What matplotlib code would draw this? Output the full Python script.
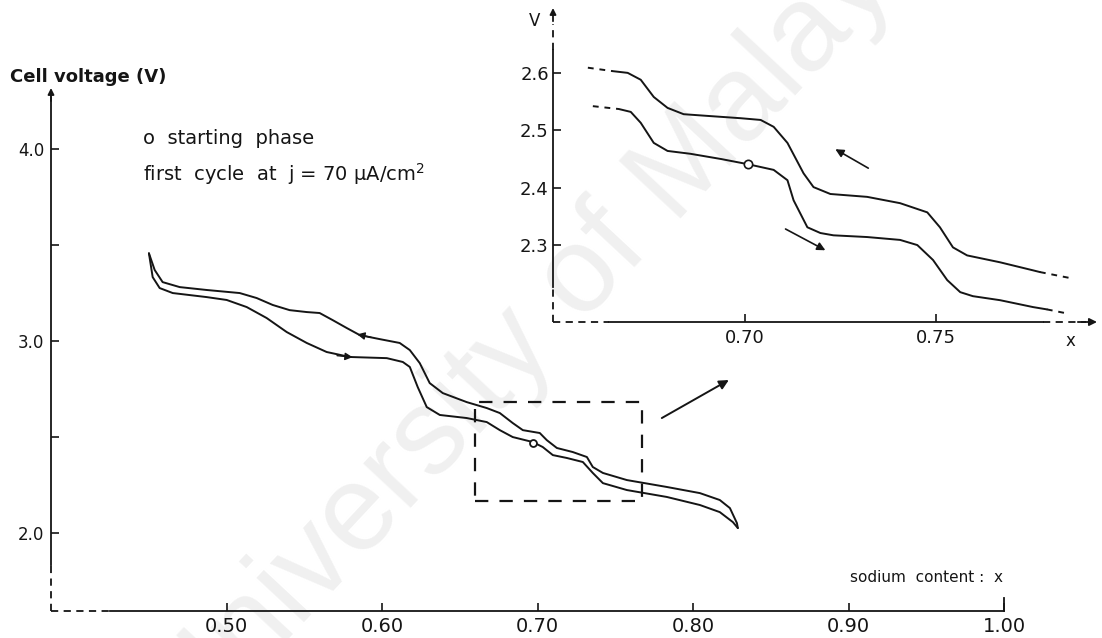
import matplotlib
matplotlib.use("Agg")
import matplotlib.pyplot as plt
from matplotlib.patches import Rectangle

W, H = 1102, 638
INK = "#151515"
plt.rcParams["font.family"] = ["DejaVu Sans"]

# ---- main loop: first cycle (x, V) ----
charge_x = [0.4500, 0.4537, 0.4588, 0.4698, 0.4871, 0.5084, 0.5193, 0.5296, 0.5405,
            0.5515, 0.5598, 0.5682, 0.5772, 0.5856, 0.5985, 0.6113, 0.6178, 0.6242,
            0.6306, 0.6390, 0.6544, 0.6673, 0.6757, 0.6840, 0.6905, 0.7014, 0.7059,
            0.7124, 0.7226, 0.7317, 0.7355, 0.7420, 0.7574, 0.7831, 0.8044, 0.8172,
            0.8237, 0.8282, 0.8288]
charge_v = [3.457, 3.370, 3.307, 3.281, 3.266, 3.250, 3.224, 3.188, 3.161,
            3.151, 3.146, 3.109, 3.068, 3.031, 3.010, 2.990, 2.953, 2.885,
            2.781, 2.729, 2.682, 2.651, 2.625, 2.573, 2.536, 2.521, 2.484,
            2.443, 2.422, 2.396, 2.344, 2.313, 2.276, 2.240, 2.208, 2.172,
            2.130, 2.052, 2.026]
discharge_x = [0.4500, 0.4524, 0.4569, 0.4653, 0.4871, 0.5000, 0.5129, 0.5257, 0.5386,
               0.5515, 0.5643, 0.5792, 0.6030, 0.6133, 0.6178, 0.6229, 0.6287, 0.6371,
               0.6544, 0.6673, 0.6757, 0.6840, 0.6969, 0.7033, 0.7098, 0.7188, 0.7291,
               0.7355, 0.7420, 0.7574, 0.7831, 0.8044, 0.8172, 0.8256, 0.8288]
discharge_v = [3.457, 3.333, 3.276, 3.250, 3.229, 3.214, 3.177, 3.120, 3.047,
               2.990, 2.943, 2.917, 2.911, 2.891, 2.865, 2.760, 2.656, 2.615,
               2.599, 2.578, 2.536, 2.500, 2.474, 2.448, 2.406, 2.391, 2.370,
               2.313, 2.260, 2.224, 2.188, 2.146, 2.109, 2.057, 2.026]
start_main = (0.6969, 2.470)
charge_arrow = ((0.593, 3.019), (0.584, 3.035))
discharge_arrow = ((0.571, 2.924), (0.581, 2.916))
zoom_box = (0.6596, 0.7671, 2.167, 2.682)
zoom_arrow = ((0.7799, 2.599), (0.8230, 2.797))

# ---- inset (enlarged window) ----
inset_charge_x = [0.6591, 0.6656, 0.6695, 0.6729, 0.6763, 0.6799, 0.6841, 0.6904, 0.6990,
                  0.7042, 0.7076, 0.7112, 0.7154, 0.7180, 0.7224, 0.7320, 0.7406, 0.7477,
                  0.7510, 0.7544, 0.7581, 0.7667, 0.7753, 0.7771, 0.7854]
inset_charge_v = [2.609, 2.603, 2.600, 2.588, 2.558, 2.539, 2.528, 2.525, 2.521,
                  2.518, 2.506, 2.478, 2.425, 2.401, 2.389, 2.384, 2.373, 2.357,
                  2.331, 2.296, 2.282, 2.270, 2.256, 2.253, 2.242]
inset_discharge_x = [0.6604, 0.6672, 0.6703, 0.6729, 0.6763, 0.6799, 0.6859, 0.6938, 0.7008,
                     0.7076, 0.7112, 0.7128, 0.7164, 0.7198, 0.7232, 0.7320, 0.7406, 0.7451,
                     0.7492, 0.7529, 0.7563, 0.7596, 0.7667, 0.7753, 0.7789, 0.7841]
inset_discharge_v = [2.542, 2.537, 2.532, 2.513, 2.478, 2.464, 2.459, 2.450, 2.441,
                     2.431, 2.413, 2.378, 2.331, 2.321, 2.317, 2.314, 2.309, 2.300,
                     2.274, 2.239, 2.218, 2.211, 2.204, 2.192, 2.188, 2.181]
start_inset = (0.7008, 2.441)
inset_charge_arrow = ((0.7323, 2.434), (0.7237, 2.467))
inset_discharge_arrow = ((0.7107, 2.328), (0.7211, 2.291))

main_xticks = [0.50, 0.60, 0.70, 0.80, 0.90, 1.00]
main_xlabels = ["0.50", "0.60", "0.70", "0.80", "0.90", "1.00"]
main_yticks = [2.0, 2.5, 3.0, 3.5, 4.0]
main_ylabels = ["2.0", "", "3.0", "", "4.0"]
inset_xticks = [0.70, 0.75]
inset_yticks = [2.3, 2.4, 2.5, 2.6]


def px_rect(left, top, right, bottom):
    return [left / W, 1 - bottom / H, (right - left) / W, (bottom - top) / H]


def arrow(ax, tail, head, lw=1.3, scale=12):
    ax.annotate("", xy=head, xytext=tail, annotation_clip=False,
                arrowprops=dict(arrowstyle="-|>", color=INK, lw=lw,
                                mutation_scale=scale, shrinkA=0, shrinkB=0))


def broken_axes(ax, x0, y0, xsolid, ysolid):
    """Solid spines with dashed stubs at the corner."""
    dash = dict(color=INK, lw=1.3, ls=(0, (4, 3)), clip_on=False)
    ax.spines[["top", "right"]].set_visible(False)
    for s in ("left", "bottom"):
        ax.spines[s].set_color(INK)
        ax.spines[s].set_linewidth(1.3)
    ax.spines["left"].set_bounds(ysolid[0], ysolid[1])
    ax.spines["bottom"].set_bounds(xsolid[0], xsolid[1])
    ax.plot([x0, x0], [y0, ysolid[0]], **dash)
    ax.plot([x0, xsolid[0]], [y0, y0], **dash)
    return dash


fig = plt.figure(figsize=(W / 100, H / 100), dpi=100)
fig.text(545 / W, 1 - 318 / H, "University of Malaya", rotation=47, fontsize=88,
         color="#f0f0f0", ha="center", va="center", family="Liberation Sans", zorder=-5)

# ---------------- main axes ----------------
ax = fig.add_axes(px_rect(51, 88, 1004, 611))
ax.patch.set_visible(False)
ax.set_xlim(0.387, 1.0)
ax.set_ylim(1.594, 4.318)
broken_axes(ax, 0.387, 1.594, (0.425, 1.0), (1.833, 4.27))
arrow(ax, (0.387, 4.25), (0.387, 4.318), scale=9)
ax.plot([1.0, 1.0], [1.594, 1.66], color=INK, lw=1.3, clip_on=False)

ax.set_xticks(main_xticks, main_xlabels, fontsize=14)
ax.set_yticks(main_yticks, main_ylabels, fontsize=12)
ax.tick_params(direction="in", length=6, width=1.2, color=INK, labelcolor=INK)
ax.tick_params(axis="x", pad=4)
ax.tick_params(axis="y", pad=5)

curve = dict(color=INK, lw=1.4, solid_joinstyle="round", solid_capstyle="round")
ax.plot(charge_x, charge_v, **curve)
ax.plot(discharge_x, discharge_v, **curve)
ax.plot(*start_main, "o", ms=5, mfc="white", mec=INK, mew=1.3, zorder=5)
arrow(ax, *charge_arrow, lw=1.0, scale=11)
arrow(ax, *discharge_arrow, lw=1.0, scale=11)

x0, x1, y0, y1 = zoom_box
ax.add_patch(Rectangle((x0, y0), x1 - x0, y1 - y0, fill=False, ec=INK, lw=1.6,
                       ls=(0, (6, 5))))
arrow(ax, *zoom_arrow, lw=1.4, scale=14)

fig.text(10 / W, 1 - 77 / H, "Cell voltage (V)", fontsize=13, weight="bold",
         color=INK, va="center")
fig.text(143 / W, 1 - 138 / H, "o  starting  phase", fontsize=14, color=INK, va="center")
fig.text(143 / W, 1 - 174 / H, "first  cycle  at  j = 70 \u03bcA/cm$^2$", fontsize=14,
         color=INK, va="center")
fig.text(1003 / W, 1 - 578 / H, "sodium  content :  x", fontsize=11, color=INK,
         ha="right", va="center")

# ---------------- inset ----------------
ax2 = fig.add_axes(px_rect(553, 8, 1097, 322))
ax2.patch.set_visible(False)
ax2.set_xlim(0.650, 0.792)
ax2.set_ylim(2.166, 2.713)
dash = broken_axes(ax2, 0.650, 2.166, (0.6646, 0.7779), (2.227, 2.640))
ax2.plot([0.650, 0.650], [2.640, 2.685], **dash)
ax2.plot([0.7779, 0.789], [2.166, 2.166], **dash)
arrow(ax2, (0.650, 2.690), (0.650, 2.713), scale=9)
arrow(ax2, (0.787, 2.166), (0.792, 2.166), scale=11)

ax2.set_xticks(inset_xticks, ["0.70", "0.75"], fontsize=13)
ax2.set_yticks(inset_yticks, ["2.3", "2.4", "2.5", "2.6"], fontsize=13)
ax2.tick_params(direction="in", length=6, width=1.2, color=INK, labelcolor=INK)
ax2.tick_params(axis="x", pad=5)
ax2.tick_params(axis="y", pad=3)

ax2.plot(inset_charge_x[1:-1], inset_charge_v[1:-1], **curve)
ax2.plot(inset_discharge_x[1:-1], inset_discharge_v[1:-1], **curve)
for xs, vs in ((inset_charge_x, inset_charge_v), (inset_discharge_x, inset_discharge_v)):
    ax2.plot(xs[:2], vs[:2], color=INK, lw=1.4, ls=(0, (3, 3)))
    ax2.plot(xs[-2:], vs[-2:], color=INK, lw=1.4, ls=(0, (3, 3)))
ax2.plot(*start_inset, "o", ms=6, mfc="white", mec=INK, mew=1.2, zorder=5)
arrow(ax2, *inset_charge_arrow, lw=1.2, scale=12)
arrow(ax2, *inset_discharge_arrow, lw=1.2, scale=12)

ax2.text(-0.033, 0.96, "V", transform=ax2.transAxes, fontsize=12, color=INK,
         ha="center", va="center")
ax2.text(0.952, -0.06, "x", transform=ax2.transAxes, fontsize=12, color=INK,
         ha="center", va="center")

fig.savefig("out.png", dpi=100)
